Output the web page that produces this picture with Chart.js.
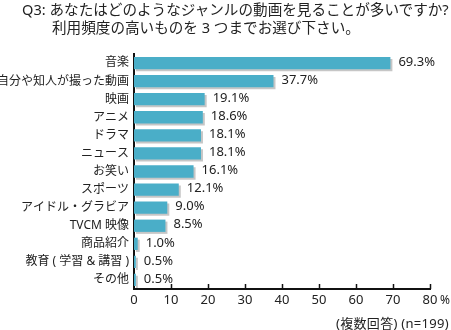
<!DOCTYPE html>
<html>
<head>
<meta charset="utf-8">
<script src="https://cdn.jsdelivr.net/npm/chart.js@4"></script>
<style>
  body { margin: 0; background: #fff; }
  #wrap { position: relative; width: 451px; height: 330px; font-family: "Noto Sans", "Noto Sans CJK JP", sans-serif; color: #222; }
  canvas { position: absolute; left: 0; top: 0; }
  .t { position: absolute; white-space: nowrap; }
</style>
</head>
<body>
<div id="wrap">
  <canvas id="myChart" width="451" height="330"></canvas>
  <div class="t" style="left:22px; top:1px; font-size:14.6px; line-height:17.5px;">Q3: あなたはどのようなジャンルの動画を見ることが多いですか?<br><span style="padding-left:30px">利用頻度の高いものを 3 つまでお選び下さい。</span></div>
  <div class="t" style="left:440px; top:291px; font-size:12px;">%</div>
  <div class="t" style="right:2px; top:313px; font-size:13px; letter-spacing:0.3px;">(複数回答) (n=199)</div>
</div>
<script>
let labelArr = ["音楽", "自分や知人が撮った動画", "映画", "アニメ", "ドラマ", "ニュース", "お笑い", "スポーツ", "アイドル・グラビア", "TVCM 映像", "商品紹介", "教育 ( 学習 & 講習 )", "その他"];
let valueArr = [69.3, 37.7, 19.1, 18.6, 18.1, 18.1, 16.1, 12.1, 9.0, 8.5, 1.0, 0.5, 0.5];
let tickArr = [0, 10, 20, 30, 40, 50, 60, 70, 80];
let fontFam = "'Noto Sans', 'Noto Sans CJK JP', sans-serif";

// shadow under the bars + value labels + inner ticks
let extras = {
    id: "extras",
    beforeDatasetsDraw(chart) {
        let ctx = chart.ctx;
        ctx.save();
        ctx.shadowColor = "rgba(160,160,160,0.6)";
        ctx.shadowOffsetX = 2;
        ctx.shadowOffsetY = 2;
        ctx.shadowBlur = 0;
    },
    afterDatasetsDraw(chart) {
        let ctx = chart.ctx;
        ctx.restore();
        ctx.save();
        ctx.font = "13px " + fontFam;
        ctx.fillStyle = "#222";
        ctx.textBaseline = "middle";
        chart.getDatasetMeta(0).data.forEach((bar, i) => {
            ctx.fillText(valueArr[i].toFixed(1) + "%", bar.x + 8, bar.y - 1);
        });
        let x = chart.scales.x;
        let bottom = chart.chartArea.bottom;
        ctx.strokeStyle = "#111";
        ctx.lineWidth = 1.5;
        tickArr.forEach(v => {
            if (v === 0) return;
            let px = Math.round(x.getPixelForValue(v)) + 0.5;
            ctx.beginPath();
            ctx.moveTo(px, bottom);
            ctx.lineTo(px, bottom - 5);
            ctx.stroke();
        });
        ctx.restore();
    }
};

let myChart = document.querySelector("#myChart");
let mainChart = new Chart(myChart, {
    type: "bar",
    data: {
        labels: labelArr,
        datasets: [{
            data: valueArr,
            backgroundColor: "rgb(74, 174, 200)",
            barPercentage: 0.68,
            categoryPercentage: 1
        }]
    },
    options: {
        indexAxis: "y",
        responsive: false,
        animation: false,
        layout: { padding: { left: 0, right: 21, top: 54, bottom: 21 } },
        plugins: { legend: { display: false }, tooltip: { enabled: false } },
        scales: {
            x: {
                min: 0,
                max: 80,
                afterFit: s => { s.height = 20; },
                afterBuildTicks: s => { s.ticks = tickArr.map(v => ({ value: v })); },
                grid: { display: false, drawTicks: false },
                border: { color: "#111", width: 2 },
                ticks: { color: "#222", padding: 3, font: { size: 13, family: fontFam } }
            },
            y: {
                afterFit: s => { s.width = 134; },
                grid: { display: false, drawTicks: false },
                border: { color: "#111", width: 2 },
                ticks: { color: "#222", padding: 5, font: { size: 12, family: fontFam } }
            }
        }
    },
    plugins: [extras]
});
</script>
</body>
</html>
